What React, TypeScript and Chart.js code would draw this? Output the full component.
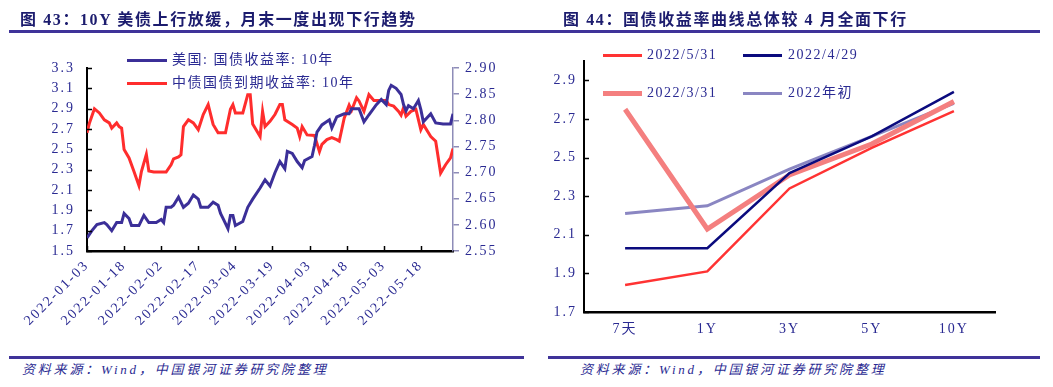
import React, { useEffect, useRef } from 'react';
import { Chart, registerables } from 'chart.js';

Chart.register(...registerables);

// ---------- Figure 43 data ----------
const BASE_DATE = '2022-01-03';
const END_DATE = '2022-05-31';

const usDates = [
  '2022-01-03', '2022-01-05', '2022-01-07', '2022-01-10', '2022-01-11', '2022-01-13', '2022-01-15', '2022-01-17', '2022-01-18', '2022-01-20',
  '2022-01-21', '2022-01-24', '2022-01-26', '2022-01-28', '2022-01-31', '2022-02-02', '2022-02-03', '2022-02-04', '2022-02-06', '2022-02-07',
  '2022-02-09', '2022-02-11', '2022-02-13', '2022-02-15', '2022-02-17', '2022-02-18', '2022-02-21', '2022-02-23', '2022-02-25', '2022-02-26',
  '2022-02-27', '2022-03-01', '2022-03-02', '2022-03-03', '2022-03-04', '2022-03-07', '2022-03-09', '2022-03-11', '2022-03-14', '2022-03-16',
  '2022-03-18', '2022-03-20', '2022-03-22', '2022-03-24', '2022-03-25', '2022-03-27', '2022-03-29', '2022-03-31', '2022-04-01', '2022-04-04',
  '2022-04-05', '2022-04-06', '2022-04-08', '2022-04-11', '2022-04-12', '2022-04-14', '2022-04-17', '2022-04-19', '2022-04-20', '2022-04-23',
  '2022-04-25', '2022-04-27', '2022-04-30', '2022-05-02', '2022-05-04', '2022-05-05', '2022-05-06', '2022-05-08', '2022-05-10', '2022-05-11',
  '2022-05-12', '2022-05-13', '2022-05-15', '2022-05-17', '2022-05-18', '2022-05-19', '2022-05-22', '2022-05-24', '2022-05-27', '2022-05-30',
  '2022-05-31',
];
const usYield = [
  1.63, 1.70, 1.76, 1.78, 1.76, 1.70, 1.78, 1.78, 1.87, 1.82,
  1.75, 1.75, 1.85, 1.78, 1.78, 1.81, 1.78, 1.93, 1.93, 1.95,
  2.03, 1.93, 1.97, 2.05, 2.01, 1.93, 1.93, 1.98, 1.95, 1.87,
  1.82, 1.72, 1.85, 1.85, 1.75, 1.79, 1.93, 2.01, 2.12, 2.20,
  2.14, 2.27, 2.38, 2.31, 2.48, 2.46, 2.38, 2.32, 2.39, 2.43,
  2.54, 2.67, 2.74, 2.79, 2.71, 2.82, 2.85, 2.85, 2.90, 2.90,
  2.77, 2.84, 2.94, 2.99, 2.94, 3.08, 3.13, 3.10, 3.04, 2.94,
  2.88, 2.93, 2.90, 2.98, 2.89, 2.77, 2.85, 2.76, 2.75, 2.75,
  2.85,
];

const cnDates = [
  '2022-01-03', '2022-01-04', '2022-01-06', '2022-01-08', '2022-01-10', '2022-01-12', '2022-01-13', '2022-01-15', '2022-01-16', '2022-01-17',
  '2022-01-18', '2022-01-20', '2022-01-22', '2022-01-24', '2022-01-25', '2022-01-27', '2022-01-28', '2022-01-30', '2022-02-04', '2022-02-06',
  '2022-02-07', '2022-02-09', '2022-02-10', '2022-02-11', '2022-02-13', '2022-02-15', '2022-02-17', '2022-02-19', '2022-02-21', '2022-02-23',
  '2022-02-25', '2022-02-28', '2022-03-02', '2022-03-03', '2022-03-04', '2022-03-07', '2022-03-09', '2022-03-10', '2022-03-11', '2022-03-14',
  '2022-03-15', '2022-03-16', '2022-03-18', '2022-03-20', '2022-03-22', '2022-03-23', '2022-03-24', '2022-03-27', '2022-03-29', '2022-03-30',
  '2022-03-31', '2022-04-02', '2022-04-05', '2022-04-07', '2022-04-08', '2022-04-10', '2022-04-12', '2022-04-14', '2022-04-15', '2022-04-17',
  '2022-04-19', '2022-04-20', '2022-04-22', '2022-04-23', '2022-04-25', '2022-04-27', '2022-04-29', '2022-05-04', '2022-05-05', '2022-05-07',
  '2022-05-09', '2022-05-10', '2022-05-11', '2022-05-12', '2022-05-14', '2022-05-16', '2022-05-18', '2022-05-19', '2022-05-22', '2022-05-24',
  '2022-05-26', '2022-05-28', '2022-05-30', '2022-05-31',
];
const cnYield = [
  2.776, 2.795, 2.822, 2.814, 2.801, 2.795, 2.785, 2.795, 2.788, 2.785,
  2.744, 2.728, 2.702, 2.675, 2.702, 2.735, 2.703, 2.701, 2.701, 2.715,
  2.726, 2.730, 2.734, 2.788, 2.801, 2.795, 2.782, 2.811, 2.830, 2.792,
  2.776, 2.776, 2.821, 2.830, 2.814, 2.814, 2.849, 2.849, 2.793, 2.769,
  2.817, 2.788, 2.798, 2.811, 2.830, 2.830, 2.801, 2.792, 2.785, 2.769,
  2.788, 2.772, 2.771, 2.740, 2.754, 2.763, 2.767, 2.763, 2.760, 2.804,
  2.829, 2.819, 2.843, 2.837, 2.817, 2.849, 2.838, 2.838, 2.830, 2.827,
  2.817, 2.810, 2.824, 2.808, 2.817, 2.821, 2.782, 2.792, 2.769, 2.760,
  2.699, 2.715, 2.728, 2.746,
];

const usLabel = '美国: 国债收益率: 10年';
const cnLabel = '中债国债到期收益率: 10年';

const usAxisTicks = [1.5, 1.7, 1.9, 2.1, 2.3, 2.5, 2.7, 2.9, 3.1, 3.3];
const cnAxisTicks = [2.55, 2.6, 2.65, 2.7, 2.75, 2.8, 2.85, 2.9];

// ---------- Figure 44 data ----------
const curveTerms = ['7天', '1Y', '3Y', '5Y', '10Y'];
const curve0531 = [1.84, 1.91, 2.34, 2.55, 2.74];
const curve0429 = [2.03, 2.03, 2.42, 2.61, 2.84];
const curve0331 = [2.75, 2.13, 2.41, 2.57, 2.79];
const curveStart = [2.21, 2.25, 2.44, 2.61, 2.78];
const curveLabels = ['2022/5/31', '2022/4/29', '2022/3/31', '2022年初'];
const curveAxisTicks = [1.7, 1.9, 2.1, 2.3, 2.5, 2.7, 2.9];

// ---------- styling ----------
const FONT = '"Liberation Serif", "Noto Sans CJK SC", serif';
const TEXT_COLOR = '#2a2a92';
const TITLE_COLOR = '#1c1c6e';
const RULE_COLOR = '#3f3399';
const US_COLOR = '#3b2f98';
const CN_COLOR = '#ff2d2d';
const C_0531 = '#ff3333';
const C_0429 = '#0b0b7e';
const C_0331 = '#f47f7f';
const C_START = '#8a86c2';

const DAY = 86400000;
const dayOf = (s: string) => (Date.parse(s) - Date.parse(BASE_DATE)) / DAY;
const dateOf = (d: number) => new Date(Date.parse(BASE_DATE) + d * DAY).toISOString().slice(0, 10);

const spacingPlugin = {
  id: 'spacing',
  beforeDraw(chart: any) {
    (chart.ctx as any).letterSpacing = '2px';
  },
};

const inwardTicks = {
  id: 'inwardTicks',
  afterDraw(chart: any, _args: any, opts: any) {
    const ctx = chart.ctx;
    (opts.axes || []).forEach((a: any) => {
      const s = chart.scales[a.id];
      if (!s) return;
      ctx.save();
      (ctx as any).letterSpacing = '0px';
      ctx.strokeStyle = a.color;
      ctx.lineWidth = a.width;
      s.ticks.forEach((_t: any, i: number) => {
        const p = Math.round(s.getPixelForTick(i)) + 0.5;
        ctx.beginPath();
        if (s.isHorizontal()) {
          ctx.moveTo(p, s.top);
          ctx.lineTo(p, s.top - a.len);
        } else if (s.position === 'left') {
          ctx.moveTo(s.right, p);
          ctx.lineTo(s.right + a.len, p);
        } else {
          ctx.moveTo(s.left, p);
          ctx.lineTo(s.left - a.len, p);
        }
        ctx.stroke();
      });
      ctx.restore();
    });
  },
};

const fmt = (dec: number) => (v: any) => Number(v).toFixed(dec);
const fixedTicks = (vals: number[]) => (axis: any) => {
  axis.ticks = vals.map((v) => ({ value: v }));
};

export default function App() {
  const leftRef = useRef<HTMLCanvasElement>(null);
  const rightRef = useRef<HTMLCanvasElement>(null);

  useEffect(() => {
    document.body.style.margin = '0';
    const endDay = dayOf(END_DATE);

    const c1 = new Chart(leftRef.current as HTMLCanvasElement, {
      type: 'line',
      data: {
        datasets: [
          {
            label: usLabel,
            data: usDates.map((d, i) => ({ x: dayOf(d), y: usYield[i] })),
            borderColor: US_COLOR,
            borderWidth: 3,
            pointRadius: 0,
            yAxisID: 'y',
          },
          {
            label: cnLabel,
            data: cnDates.map((d, i) => ({ x: dayOf(d), y: cnYield[i] })),
            borderColor: CN_COLOR,
            borderWidth: 3,
            pointRadius: 0,
            yAxisID: 'y1',
          },
        ],
      },
      options: {
        animation: false,
        responsive: false,
        events: [],
        layout: { padding: { top: 68, left: 0, right: 0, bottom: 0 } },
        plugins: {
          legend: { display: false },
          tooltip: { enabled: false },
          inwardTicks: {
            axes: [
              { id: 'x', len: 5, color: '#000', width: 1.5 },
              { id: 'y', len: 5, color: '#000', width: 1.5 },
            ],
          },
        } as any,
        scales: {
          x: {
            type: 'linear',
            min: 0,
            max: endDay,
            afterBuildTicks: (axis: any) => {
              axis.ticks = axis.ticks.filter((t: any) => t.value % 15 === 0);
            },
            afterFit: (s: any) => { s.height = 89; },
            grid: { display: false, drawTicks: false },
            border: { display: true, color: '#000', width: 2.5 },
            ticks: {
              stepSize: 15,
              autoSkip: false,
              minRotation: 45,
              maxRotation: 45,
              padding: 6,
              color: TEXT_COLOR,
              font: { family: FONT, size: 14 },
              callback: (v: any) => dateOf(Number(v)),
            },
          },
          y: {
            position: 'left',
            min: 1.5,
            max: 3.3,
            afterBuildTicks: fixedTicks(usAxisTicks),
            afterFit: (s: any) => { s.width = 87; },
            grid: { display: false, drawTicks: false },
            border: { display: true, color: '#000', width: 2 },
            ticks: {
              padding: 12,
              color: TEXT_COLOR,
              font: { family: FONT, size: 14 },
              callback: fmt(1),
            },
          },
          y1: {
            position: 'right',
            min: 2.55,
            max: 2.9,
            afterBuildTicks: fixedTicks(cnAxisTicks),
            afterFit: (s: any) => { s.width = 67; },
            grid: { display: true, drawOnChartArea: false, drawTicks: true, tickLength: 6, color: '#8e8cb8', lineWidth: 1.5 },
            border: { display: true, color: '#8e8cb8', width: 1.5 },
            ticks: {
              padding: 6,
              color: TEXT_COLOR,
              font: { family: FONT, size: 14 },
              callback: fmt(2),
            },
          },
        },
      } as any,
      plugins: [spacingPlugin, inwardTicks],
    });

    const c2 = new Chart(rightRef.current as HTMLCanvasElement, {
      type: 'line',
      data: {
        labels: curveTerms,
        datasets: [
          { label: curveLabels[0], data: curve0531, borderColor: C_0531, borderWidth: 2.5, pointRadius: 0 },
          { label: curveLabels[1], data: curve0429, borderColor: C_0429, borderWidth: 2.5, pointRadius: 0 },
          { label: curveLabels[2], data: curve0331, borderColor: C_0331, borderWidth: 5, pointRadius: 0 },
          { label: curveLabels[3], data: curveStart, borderColor: C_START, borderWidth: 3, pointRadius: 0 },
        ],
      },
      options: {
        animation: false,
        responsive: false,
        events: [],
        layout: { padding: { top: 61, left: 0, right: 58, bottom: 0 } },
        plugins: {
          legend: { display: false },
          tooltip: { enabled: false },
          inwardTicks: { axes: [{ id: 'y', len: 5, color: '#000', width: 1.5 }] },
        } as any,
        scales: {
          x: {
            offset: true,
            afterFit: (s: any) => { s.height = 28; },
            grid: { display: false, drawTicks: false },
            border: { display: true, color: '#000', width: 2.5 },
            ticks: {
              padding: 9,
              maxRotation: 0,
              color: TEXT_COLOR,
              font: { family: FONT, size: 14 },
            },
          },
          y: {
            min: 1.7,
            max: 3.0,
            afterBuildTicks: fixedTicks(curveAxisTicks),
            afterFit: (s: any) => { s.width = 54; },
            grid: { display: false, drawTicks: false },
            border: { display: true, color: '#000', width: 2 },
            ticks: {
              padding: 7,
              color: TEXT_COLOR,
              font: { family: FONT, size: 14 },
              callback: fmt(1),
            },
          },
        },
      } as any,
      plugins: [spacingPlugin, inwardTicks],
    });

    return () => {
      c1.destroy();
      c2.destroy();
    };
  }, []);

  const abs = (l: number, t: number, extra: any = {}) => ({ position: 'absolute' as const, left: l, top: t, ...extra });
  const legendText = (l: number, cy: number, text: string) => (
    <div style={abs(l, cy - 9, { fontSize: 14, lineHeight: '18px', color: TEXT_COLOR, letterSpacing: '1.5px', whiteSpace: 'nowrap' })}>{text}</div>
  );
  const swatch = (l: number, cy: number, w: number, h: number, color: string) => (
    <div style={abs(l, cy - h / 2, { width: w, height: h, background: color })} />
  );

  return (
    <div style={{ position: 'absolute', left: 0, top: 0, width: 1053, height: 387, background: '#fff', overflow: 'hidden', fontFamily: FONT }}>
      <canvas ref={leftRef} width={520} height={340} style={abs(0, 0, { width: 520, height: 340 })} />
      <canvas ref={rightRef} width={523} height={340} style={abs(530, 0, { width: 523, height: 340 })} />

      {/* titles */}
      <div style={abs(20, 9, { fontSize: 16, lineHeight: '22px', fontWeight: 'bold', color: TITLE_COLOR, letterSpacing: '1.6px', whiteSpace: 'nowrap' })}>
        图 43：10Y 美债上行放缓，月末一度出现下行趋势
      </div>
      <div style={abs(563, 9, { fontSize: 16, lineHeight: '22px', fontWeight: 'bold', color: TITLE_COLOR, letterSpacing: '1.6px', whiteSpace: 'nowrap' })}>
        图 44：国债收益率曲线总体较 4 月全面下行
      </div>
      <div style={abs(9, 30, { width: 1031, height: 3, background: RULE_COLOR })} />

      {/* left legend */}
      {swatch(127, 60, 40, 3, US_COLOR)}
      {legendText(172, 60, usLabel)}
      {swatch(127, 83, 40, 3, CN_COLOR)}
      {legendText(172, 83, cnLabel)}

      {/* right legend */}
      {swatch(603, 55, 39, 3, C_0531)}
      {legendText(647, 55, curveLabels[0])}
      {swatch(743, 55, 39, 3, C_0429)}
      {legendText(788, 55, curveLabels[1])}
      {swatch(603, 93, 39, 5, C_0331)}
      {legendText(647, 93, curveLabels[2])}
      {swatch(743, 93, 39, 3, C_START)}
      {legendText(788, 93, curveLabels[3])}

      {/* source lines */}
      <div style={abs(9, 356, { width: 515, height: 3, background: RULE_COLOR })} />
      <div style={abs(548, 356, { width: 492, height: 3, background: RULE_COLOR })} />
      <div style={abs(22, 361, { fontSize: 13, lineHeight: '18px', fontStyle: 'italic', color: TEXT_COLOR, letterSpacing: '2.8px', whiteSpace: 'nowrap' })}>
        资料来源：Wind，中国银河证券研究院整理
      </div>
      <div style={abs(580, 361, { fontSize: 13, lineHeight: '18px', fontStyle: 'italic', color: TEXT_COLOR, letterSpacing: '2.8px', whiteSpace: 'nowrap' })}>
        资料来源：Wind，中国银河证券研究院整理
      </div>
    </div>
  );
}
